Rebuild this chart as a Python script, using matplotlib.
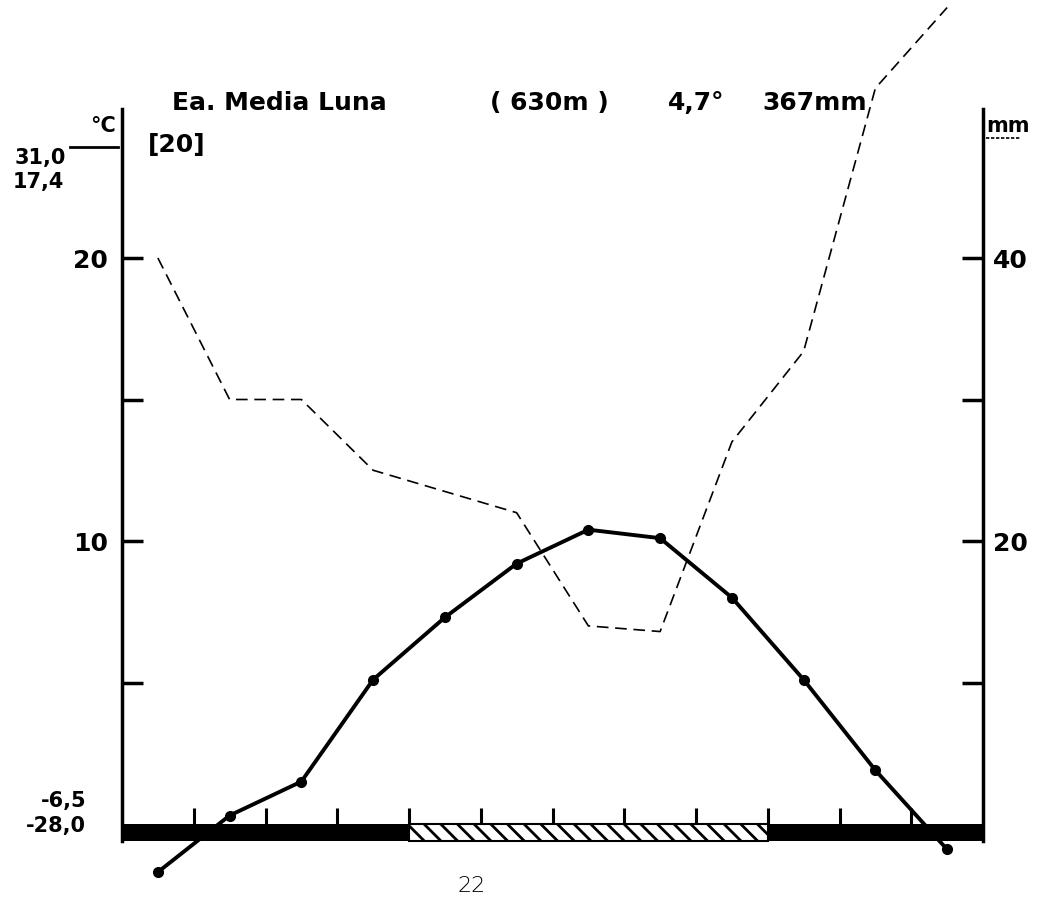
import matplotlib
matplotlib.use("Agg")
import matplotlib.pyplot as plt
import numpy as np

matplotlib.rcParams.update({"font.family": "DejaVu Sans", "hatch.linewidth": 2.0})

# monthly values (Ea. Media Luna)
months = np.arange(1, 13)
temp_c = [-1.7, 0.3, 1.5, 5.1, 7.3, 9.2, 10.4, 10.1, 8.0, 5.1, 1.9, -0.9]
precip_mm = [40, 30, 30, 25, 23.5, 22, 14, 13.6, 27, 33.4, 52, 57.7]
frost = ["sure"] * 4 + ["probable"] * 5 + ["sure"] * 3

temp_ticks = [5, 10, 15, 20]
temp_labels = ["", "10", "", "20"]
precip_ticks = [10, 20, 30, 40]
precip_labels = ["", "20", "", "40"]

W, H = 1046, 904
x_left, x_right = 122, 983
y_zero, y_top, y_bot = 825, 110, 890
px_per_deg = 28.3

bold = {"fontweight": "bold", "fontsize": 18, "color": "black"}
small = {"fontweight": "bold", "fontsize": 15, "color": "black"}


def fx(px):
    return px / W


def fy(py):
    return 1 - py / H


fig = plt.figure(figsize=(W / 100, H / 100), dpi=100)
ax = fig.add_axes([fx(x_left), fy(y_bot), (x_right - x_left) / W, (y_bot - y_top) / H])
ax.set_facecolor("none")

t_min = -(y_bot - y_zero) / px_per_deg
t_max = (y_zero - y_top) / px_per_deg
bar_h = 0.6
ax.set_xlim(0, 12)
ax.set_ylim(t_min, t_max)

xm = months - 0.5

# frost bar under the zero line, one block per run of equal months
start = 0
for i in range(1, len(frost) + 1):
    if i == len(frost) or frost[i] != frost[start]:
        if frost[start] == "sure":
            ax.bar(start, -bar_h, width=i - start, bottom=0, align="edge",
                   color="black", edgecolor="black", linewidth=0)
        else:
            ax.bar(start, -bar_h, width=i - start, bottom=0, align="edge",
                   color="white", edgecolor="black", hatch="\\\\", linewidth=1.5)
        start = i

# month ticks above the bar
ax.vlines(months[:-1], 0, 0.55, color="black", linewidth=2.2)

# precipitation (20 mm = 10 degC), runs off the top of the frame
ax.plot(xm, np.array(precip_mm) / 2, color="black", linewidth=1.2,
        linestyle=(0, (7, 4)), clip_on=False)

# temperature
ax.plot(xm, temp_c, color="black", linewidth=2.8, marker="o", markersize=7,
        clip_on=False, zorder=5)

for side in ["top", "bottom", "right"]:
    ax.spines[side].set_visible(False)
ax.spines["left"].set_linewidth(2.5)
ax.spines["left"].set_bounds(-bar_h, t_max)
ax.set_xticks([])
ax.set_yticks(temp_ticks)
ax.set_yticklabels(temp_labels, **bold)
ax.tick_params(axis="y", direction="in", length=15, width=2.5, pad=10)

ax2 = ax.twinx()
ax2.set_ylim(2 * t_min, 2 * t_max)
for side in ["top", "bottom", "left"]:
    ax2.spines[side].set_visible(False)
ax2.spines["right"].set_linewidth(2.5)
ax2.spines["right"].set_bounds(-2 * bar_h, 2 * t_max)
ax2.set_yticks(precip_ticks)
ax2.set_yticklabels(precip_labels, **bold)
ax2.tick_params(axis="y", direction="in", length=15, width=2.5, pad=7)

# header texts
fig.text(fx(172), fy(103), "Ea. Media Luna", ha="left", va="center", **bold)
fig.text(fx(490), fy(103), "( 630m )", ha="left", va="center", **bold)
fig.text(fx(668), fy(103), "4,7°", ha="left", va="center", **bold)
fig.text(fx(762), fy(103), "367mm", ha="left", va="center", **bold)
fig.text(fx(148), fy(145), "[20]", ha="left", va="center", **bold)
fig.text(fx(116), fy(126), "°C", ha="right", va="center", **small)
fig.add_artist(plt.Line2D([fx(70), fx(118)], [fy(148), fy(148)], color="black",
                          linewidth=2, transform=fig.transFigure))
fig.text(fx(66), fy(158), "31,0", ha="right", va="center", **small)
fig.text(fx(64), fy(182), "17,4", ha="right", va="center", **small)
fig.text(fx(986), fy(126), "mm", ha="left", va="center", **small)
fig.add_artist(plt.Line2D([fx(986), fx(1020)], [fy(139), fy(139)], color="black",
                          linewidth=1.2, linestyle=(0, (2, 1)),
                          transform=fig.transFigure))
fig.text(fx(86), fy(801), "-6,5", ha="right", va="center", **small)
fig.text(fx(86), fy(826), "-28,0", ha="right", va="center", **small)
fig.text(fx(472), fy(886), "22", ha="center", va="center", fontsize=16,
         fontweight="light", color="black")

fig.savefig("out.png", dpi=100)
